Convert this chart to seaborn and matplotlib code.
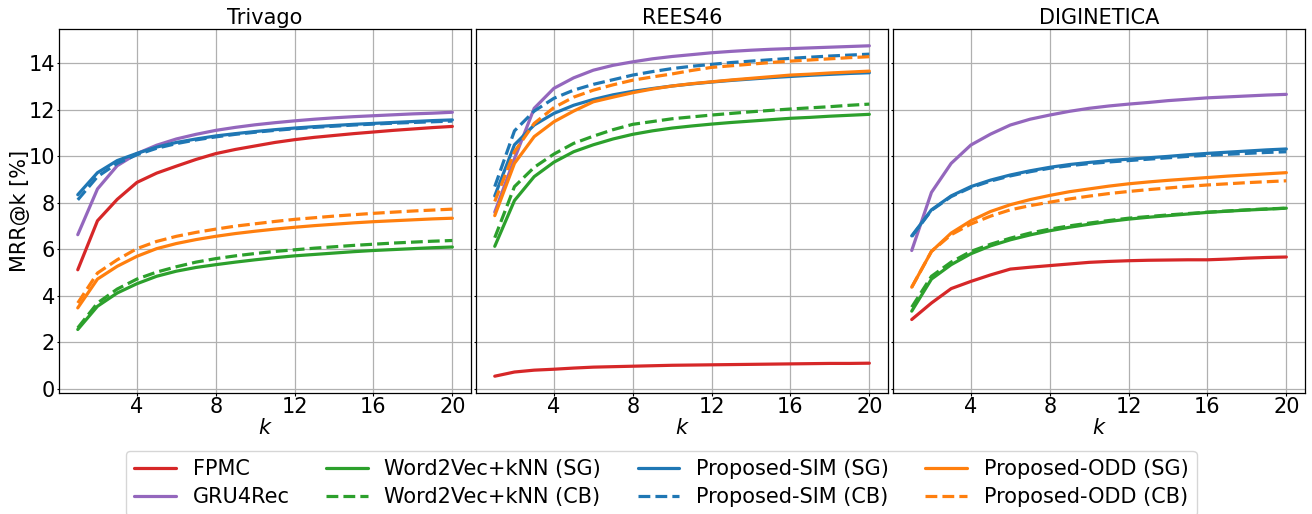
import numpy as np
import pandas as pd
import seaborn as sns
import matplotlib
matplotlib.use("Agg")
import matplotlib.pyplot as plt

k = list(range(1, 21))
datasets = ["Trivago", "REES46", "DIGINETICA"]
methods = ["FPMC", "GRU4Rec", "Word2Vec+kNN (SG)", "Word2Vec+kNN (CB)",
           "Proposed-SIM (SG)", "Proposed-SIM (CB)", "Proposed-ODD (SG)", "Proposed-ODD (CB)"]

# Trivago
tri_fpmc = [5.12, 7.23, 8.15, 8.88, 9.28, 9.58, 9.87, 10.12, 10.3, 10.45, 10.6, 10.72, 10.82, 10.9, 10.98, 11.05, 11.12, 11.18, 11.24, 11.29]
tri_gru = [6.63, 8.6, 9.6, 10.12, 10.48, 10.75, 10.95, 11.12, 11.25, 11.36, 11.45, 11.53, 11.6, 11.66, 11.71, 11.75, 11.79, 11.83, 11.86, 11.9]
tri_w2v_sg = [2.55, 3.55, 4.12, 4.52, 4.84, 5.06, 5.22, 5.34, 5.45, 5.55, 5.64, 5.72, 5.78, 5.84, 5.9, 5.95, 5.99, 6.03, 6.07, 6.1]
tri_w2v_cb = [2.62, 3.69, 4.29, 4.72, 5.02, 5.25, 5.45, 5.6, 5.72, 5.82, 5.91, 5.98, 6.05, 6.11, 6.17, 6.22, 6.27, 6.31, 6.35, 6.38]
tri_sim_sg = [8.35, 9.3, 9.82, 10.13, 10.4, 10.6, 10.75, 10.88, 10.98, 11.07, 11.15, 11.22, 11.28, 11.33, 11.38, 11.42, 11.46, 11.5, 11.54, 11.57]
tri_sim_cb = [8.13, 9.13, 9.7, 10.07, 10.35, 10.55, 10.71, 10.84, 10.95, 11.04, 11.12, 11.19, 11.25, 11.3, 11.35, 11.39, 11.43, 11.46, 11.49, 11.52]
tri_odd_sg = [3.48, 4.72, 5.27, 5.7, 6.03, 6.25, 6.42, 6.56, 6.68, 6.78, 6.87, 6.95, 7.02, 7.08, 7.14, 7.19, 7.23, 7.27, 7.31, 7.34]
tri_odd_cb = [3.69, 4.98, 5.55, 6.03, 6.34, 6.56, 6.73, 6.87, 7.0, 7.1, 7.2, 7.29, 7.36, 7.43, 7.49, 7.55, 7.6, 7.65, 7.69, 7.73]

# REES46
ree_fpmc = [0.54, 0.72, 0.8, 0.84, 0.89, 0.93, 0.95, 0.97, 0.99, 1.01, 1.02, 1.03, 1.04, 1.05, 1.06, 1.07, 1.08, 1.09, 1.09, 1.1]
ree_gru = [7.6, 9.9, 12.07, 12.93, 13.38, 13.71, 13.92, 14.07, 14.2, 14.3, 14.38, 14.46, 14.52, 14.57, 14.61, 14.64, 14.67, 14.7, 14.73, 14.76]
ree_w2v_sg = [6.13, 8.1, 9.13, 9.75, 10.2, 10.5, 10.75, 10.95, 11.1, 11.22, 11.31, 11.39, 11.46, 11.52, 11.58, 11.64, 11.68, 11.73, 11.77, 11.81]
ree_w2v_cb = [6.5, 8.7, 9.53, 10.1, 10.56, 10.87, 11.15, 11.38, 11.5, 11.62, 11.7, 11.78, 11.85, 11.92, 11.98, 12.04, 12.09, 12.14, 12.2, 12.25]
ree_sim_sg = [8.3, 10.5, 11.35, 11.85, 12.2, 12.45, 12.65, 12.8, 12.92, 13.03, 13.12, 13.2, 13.27, 13.33, 13.39, 13.44, 13.49, 13.53, 13.57, 13.6]
ree_sim_cb = [8.7, 11.1, 11.95, 12.5, 12.85, 13.1, 13.3, 13.5, 13.65, 13.78, 13.88, 13.96, 14.04, 14.1, 14.16, 14.22, 14.27, 14.32, 14.36, 14.4]
ree_odd_sg = [7.45, 9.7, 10.85, 11.49, 11.95, 12.35, 12.55, 12.74, 12.9, 13.03, 13.13, 13.21, 13.29, 13.36, 13.43, 13.5, 13.54, 13.59, 13.63, 13.67]
ree_odd_cb = [8.06, 10.2, 11.42, 12.1, 12.55, 12.85, 13.08, 13.28, 13.42, 13.55, 13.7, 13.83, 13.9, 13.97, 14.04, 14.1, 14.15, 14.2, 14.25, 14.29]

# DIGINETICA
dig_fpmc = [2.98, 3.69, 4.31, 4.62, 4.9, 5.15, 5.23, 5.3, 5.37, 5.44, 5.48, 5.51, 5.53, 5.54, 5.55, 5.55, 5.58, 5.62, 5.65, 5.67]
dig_gru = [5.95, 8.45, 9.7, 10.49, 10.96, 11.35, 11.6, 11.78, 11.94, 12.07, 12.17, 12.25, 12.32, 12.4, 12.46, 12.52, 12.56, 12.6, 12.64, 12.67]
dig_w2v_sg = [3.34, 4.72, 5.34, 5.81, 6.15, 6.41, 6.62, 6.8, 6.95, 7.08, 7.2, 7.3, 7.38, 7.45, 7.52, 7.59, 7.64, 7.69, 7.73, 7.77]
dig_w2v_cb = [3.51, 4.84, 5.45, 5.91, 6.22, 6.48, 6.7, 6.87, 7.01, 7.13, 7.24, 7.34, 7.41, 7.48, 7.54, 7.6, 7.65, 7.7, 7.74, 7.77]
dig_sim_sg = [6.58, 7.7, 8.3, 8.7, 8.98, 9.2, 9.38, 9.53, 9.65, 9.74, 9.82, 9.88, 9.94, 10.0, 10.07, 10.13, 10.18, 10.23, 10.28, 10.32]
dig_sim_cb = [6.55, 7.68, 8.27, 8.66, 8.94, 9.16, 9.34, 9.49, 9.6, 9.69, 9.76, 9.82, 9.88, 9.94, 10.0, 10.05, 10.09, 10.13, 10.17, 10.2]
dig_odd_sg = [4.37, 5.91, 6.7, 7.23, 7.63, 7.92, 8.14, 8.32, 8.48, 8.6, 8.72, 8.82, 8.9, 8.97, 9.03, 9.09, 9.15, 9.2, 9.25, 9.3]
dig_odd_cb = [4.37, 5.91, 6.63, 7.09, 7.43, 7.7, 7.88, 8.03, 8.17, 8.29, 8.4, 8.49, 8.57, 8.64, 8.71, 8.77, 8.82, 8.87, 8.91, 8.95]

series = {
    "Trivago": [tri_fpmc, tri_gru, tri_w2v_sg, tri_w2v_cb, tri_sim_sg, tri_sim_cb, tri_odd_sg, tri_odd_cb],
    "REES46": [ree_fpmc, ree_gru, ree_w2v_sg, ree_w2v_cb, ree_sim_sg, ree_sim_cb, ree_odd_sg, ree_odd_cb],
    "DIGINETICA": [dig_fpmc, dig_gru, dig_w2v_sg, dig_w2v_cb, dig_sim_sg, dig_sim_cb, dig_odd_sg, dig_odd_cb],
}

rows = []
for ds in datasets:
    for m, vals in zip(methods, series[ds]):
        for kk, v in zip(k, vals):
            rows.append({"dataset": ds, "method": m, "k": kk, "value": v})
df = pd.DataFrame(rows)

palette = {
    "FPMC": "#d62728", "GRU4Rec": "#9467bd",
    "Word2Vec+kNN (SG)": "#2ca02c", "Word2Vec+kNN (CB)": "#2ca02c",
    "Proposed-SIM (SG)": "#1f77b4", "Proposed-SIM (CB)": "#1f77b4",
    "Proposed-ODD (SG)": "#ff7f0e", "Proposed-ODD (CB)": "#ff7f0e",
}
dashes = {m: ((3.7, 1.6) if "(CB)" in m else "") for m in methods}

sns.set_style("white")
plt.rcParams["font.family"] = ["DejaVu Sans"]
plt.rcParams["font.size"] = 15
for key in ["text.color", "axes.labelcolor", "xtick.color", "ytick.color"]:
    plt.rcParams[key] = "black"

fig, axes = plt.subplots(1, 3, figsize=(13.12, 5.14), dpi=100, sharey=True)
fig.subplots_adjust(left=0.045, right=0.9947, top=0.943, bottom=0.236, wspace=0.012)

for ax, ds in zip(axes, datasets):
    sub = df[df["dataset"] == ds]
    sns.lineplot(data=sub, x="k", y="value", hue="method", style="method",
                 hue_order=methods, style_order=methods, palette=palette,
                 dashes=dashes, linewidth=2.3, ax=ax, legend=(ds == "Trivago"))
    ax.set_title(ds, fontsize=15, pad=4)
    ax.set_xlabel("$k$", fontsize=15, labelpad=1)
    ax.set_ylabel("")
    ax.set_xticks([4, 8, 12, 16, 20])
    ax.set_yticks([0, 2, 4, 6, 8, 10, 12, 14])
    ax.set_xlim(0.05, 20.95)
    ax.set_ylim(-0.17, 15.47)
    ax.grid(True, color="#b0b0b0", linewidth=0.9)
    ax.tick_params(axis="both", which="major", labelsize=15, direction="out",
                   length=1.8, width=0.8, pad=1.2, colors="black", left=True, bottom=True)
    for sp in ax.spines.values():
        sp.set_color("black")
        sp.set_linewidth(0.9)

axes[0].set_ylabel("MRR@k [%]", fontsize=15, labelpad=-1)

handles, labels = axes[0].get_legend_handles_labels()
axes[0].get_legend().remove()
fig.legend(handles, labels, loc="upper center", bbox_to_anchor=(0.504, 0.1434),
           ncol=4, fontsize=15, frameon=True, handlelength=2.0,
           columnspacing=1.75, borderpad=0.4, labelspacing=0.4)

fig.savefig("out.png", dpi=100)
